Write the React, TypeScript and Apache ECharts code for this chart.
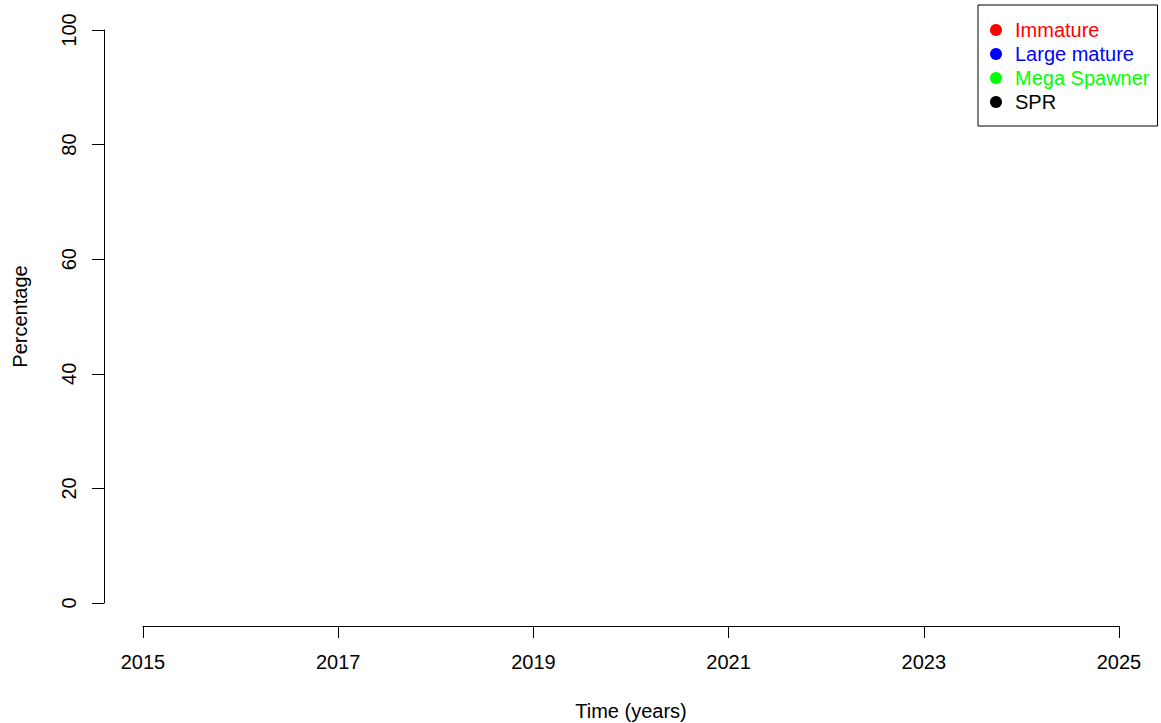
import React, { useEffect, useRef } from "react";
import * as echarts from "echarts";

const seriesNames = ["Immature", "Large mature", "Mega Spawner", "SPR"];
const seriesColors = ["#FF0000", "#0000FF", "#00FF00", "#000000"];
// The reference plot is empty: no data points are drawn for any series.
const immature: number[][] = [];
const largeMature: number[][] = [];
const megaSpawner: number[][] = [];
const spr: number[][] = [];
const seriesData = [immature, largeMature, megaSpawner, spr];

const xMin = 2015;
const xMax = 2025;
const xStep = 2;
const yMin = 0;
const yMax = 100;
const yStep = 20;
const xTitle = "Time (years)";
const yTitle = "Percentage";

const FONT = "'Liberation Sans', Arial, Helvetica, sans-serif";
const FS = 20;

export default function App() {
  const ref = useRef<HTMLDivElement>(null);
  useEffect(() => {
    document.body.style.margin = "0";
    if (!ref.current) return;
    const chart = echarts.init(ref.current, undefined, { renderer: "svg" });
    const axisCommon = {
      axisTick: { show: true, length: 12, lineStyle: { color: "#000", width: 1 } },
      splitLine: { show: false },
      nameTextStyle: { color: "#000", fontSize: FS, fontFamily: FONT },
    };
    chart.setOption({
      animation: false,
      backgroundColor: "#FFFFFF",
      textStyle: { fontFamily: FONT },
      grid: {
        left: 143,
        right: 42,
        top: 30,
        bottom: 120,
        containLabel: false,
        outerBoundsMode: "none",
      },
      xAxis: {
        type: "value",
        min: xMin,
        max: xMax,
        interval: xStep,
        offset: 23,
        name: xTitle,
        nameLocation: "middle",
        nameGap: 75,
        ...axisCommon,
        axisLine: { show: true, onZero: false, lineStyle: { color: "#000", width: 1 } },
        axisLabel: {
          color: "#000",
          fontSize: FS,
          fontFamily: FONT,
          margin: 26,
          formatter: (v: number) => String(v),
        },
      },
      yAxis: {
        type: "value",
        min: yMin,
        max: yMax,
        interval: yStep,
        offset: 39,
        name: yTitle,
        nameLocation: "middle",
        nameGap: 74,
        nameRotate: 90,
        ...axisCommon,
        axisLine: { show: true, onZero: false, lineStyle: { color: "#000", width: 1 } },
        axisLabel: {
          color: "#000",
          fontSize: FS,
          fontFamily: FONT,
          margin: 25,
          rotate: 90,
        },
      },
      legend: {
        orient: "vertical",
        left: 978,
        top: 5,
        padding: [15, 8, 14, 12],
        backgroundColor: "#FFFFFF",
        borderColor: "#000",
        borderWidth: 1,
        borderRadius: 0,
        icon: "circle",
        itemWidth: 28,
        itemHeight: 12,
        itemGap: 4,
        textStyle: { fontSize: FS, fontFamily: FONT, lineHeight: 18 },
        data: seriesNames.map((n, i) => ({
          name: n,
          textStyle: { color: seriesColors[i] },
        })),
      },
      series: seriesNames.map((n, i) => ({
        name: n,
        type: "scatter",
        data: seriesData[i],
        itemStyle: { color: seriesColors[i], opacity: 1 },
      })),
    });
    return () => chart.dispose();
  }, []);
  return <div ref={ref} style={{ width: 1161, height: 723 }} />;
}
